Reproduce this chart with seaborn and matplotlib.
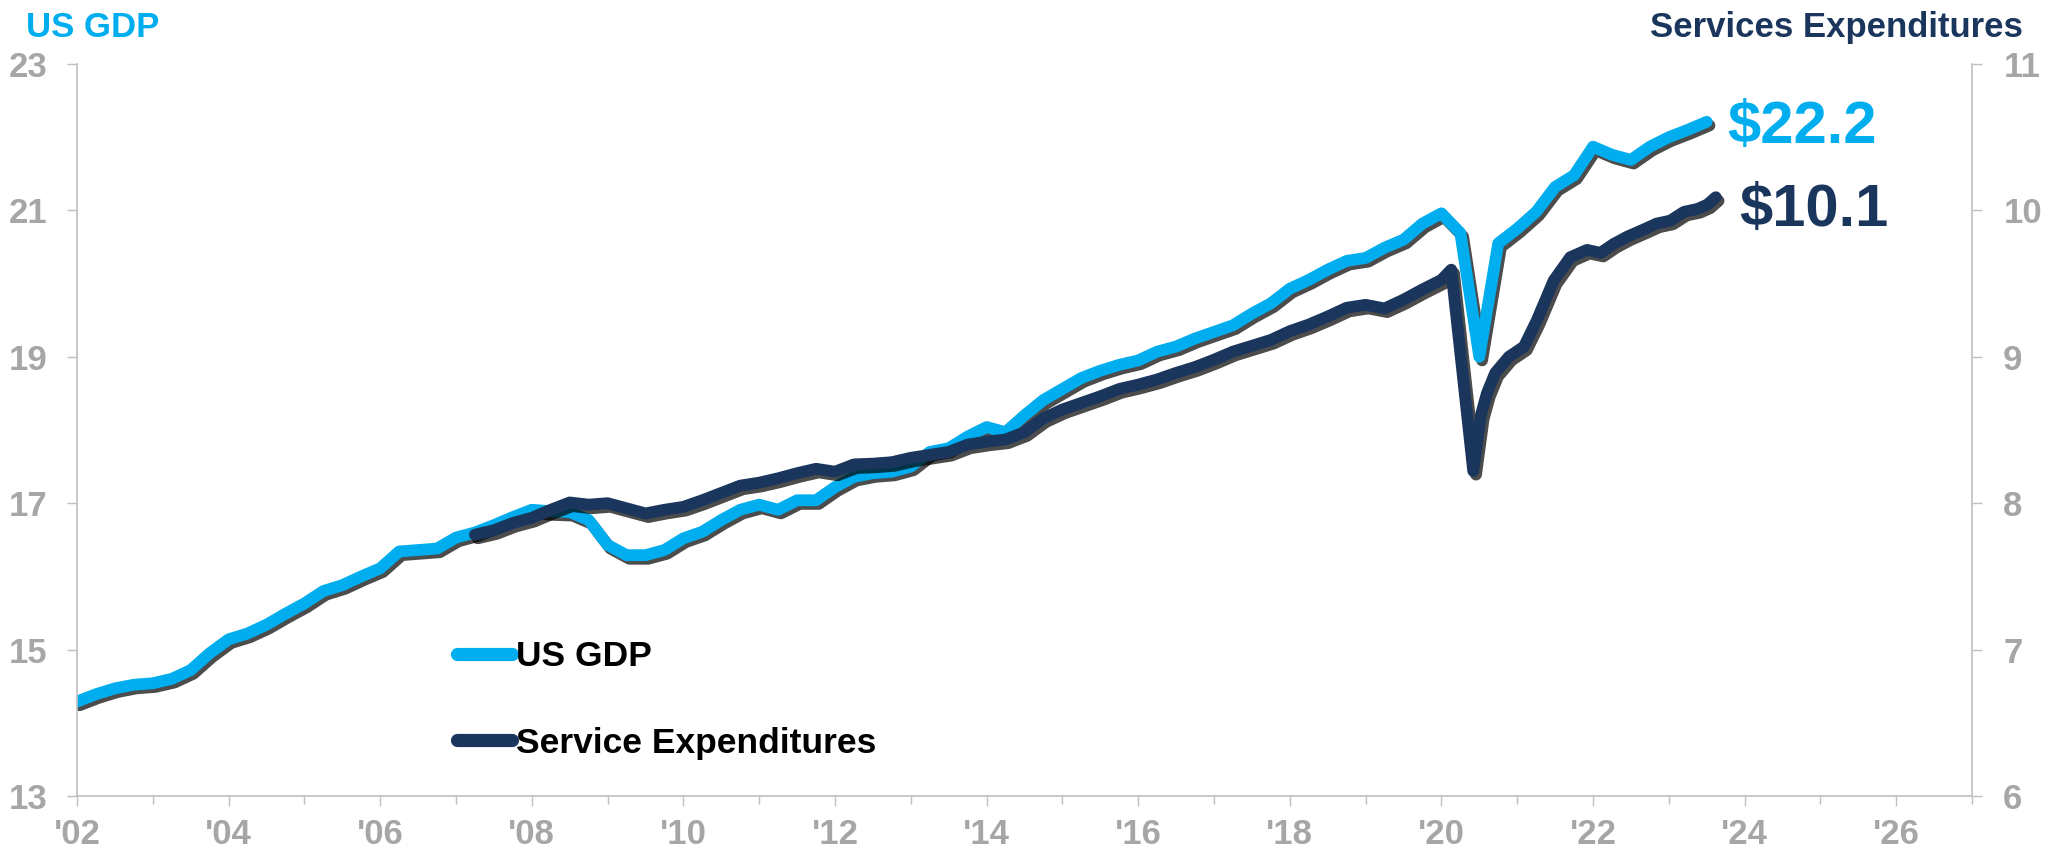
import numpy as np
import matplotlib
matplotlib.use("Agg")
import matplotlib.pyplot as plt
import matplotlib.patheffects as pe
from matplotlib.lines import Line2D
import seaborn as sns

# ---- data -------------------------------------------------------------
# Real US GDP, trillions of dollars, quarterly (points at quarter end)
gdp_dates = 2002.0 + 0.25 * np.arange(87)
gdp_values = [
    14.29, 14.39, 14.47, 14.52, 14.54, 14.60, 14.72, 14.95,
    15.14, 15.22, 15.34, 15.49, 15.63, 15.80, 15.88, 16.00,
    16.11, 16.34, 16.36, 16.38, 16.53, 16.60, 16.70, 16.81,
    16.91, 16.89, 16.88, 16.77, 16.43, 16.29, 16.29, 16.36,
    16.52, 16.61, 16.77, 16.91, 16.98, 16.91, 17.04, 17.04,
    17.22, 17.36, 17.41, 17.43, 17.50, 17.70, 17.75, 17.91,
    18.04, 17.97, 18.20, 18.41, 18.56, 18.71, 18.81, 18.89,
    18.95, 19.07, 19.14, 19.25, 19.34, 19.43, 19.59, 19.73,
    19.93, 20.05, 20.19, 20.31, 20.35, 20.49, 20.60, 20.82,
    20.96, 20.69, 19.00, 20.55, 20.75, 20.98, 21.32, 21.48,
    21.87, 21.76, 21.69, 21.87, 22.00, 22.10, 22.21,
]

# Real services expenditures, trillions of dollars
services_dates = [
    2007.25, 2007.50, 2007.75, 2008.00, 2008.25, 2008.50, 2008.75,
    2009.00, 2009.25, 2009.50, 2009.75, 2010.00, 2010.25, 2010.50,
    2010.75, 2011.00, 2011.25, 2011.50, 2011.75, 2012.00, 2012.25,
    2012.50, 2012.75, 2013.00, 2013.25, 2013.50, 2013.75, 2014.00,
    2014.25, 2014.50, 2014.75, 2015.00, 2015.25, 2015.50, 2015.75,
    2016.00, 2016.25, 2016.50, 2016.75, 2017.00, 2017.25, 2017.50,
    2017.75, 2018.00, 2018.25, 2018.50, 2018.75, 2019.00, 2019.25,
    2019.50, 2019.75, 2020.00, 2020.13, 2020.42, 2020.52, 2020.60,
    2020.71, 2020.89, 2021.09, 2021.26, 2021.48, 2021.70, 2021.92,
    2022.10, 2022.27, 2022.45, 2022.67, 2022.84, 2023.02, 2023.20,
    2023.38, 2023.51, 2023.62,
]
services_values = [
    7.785, 7.815, 7.865, 7.900, 7.955, 8.005, 7.990,
    8.000, 7.965, 7.930, 7.955, 7.975, 8.020, 8.070,
    8.120, 8.140, 8.170, 8.205, 8.235, 8.215, 8.265,
    8.270, 8.280, 8.310, 8.330, 8.350, 8.400, 8.420,
    8.435, 8.485, 8.580, 8.640, 8.685, 8.730, 8.780,
    8.810, 8.845, 8.890, 8.930, 8.980, 9.035, 9.075,
    9.115, 9.175, 9.220, 9.275, 9.335, 9.355, 9.330,
    9.390, 9.460, 9.525, 9.595, 8.220, 8.600, 8.750,
    8.890, 9.000, 9.070, 9.250, 9.520, 9.680, 9.730,
    9.710, 9.770, 9.820, 9.870, 9.910, 9.930, 9.990,
    10.010, 10.040, 10.090,
]

x_major = [2002, 2004, 2006, 2008, 2010, 2012, 2014, 2016, 2018, 2020, 2022, 2024, 2026]
x_minor = [2003, 2005, 2007, 2009, 2011, 2013, 2015, 2017, 2019, 2021, 2023, 2025, 2027]
x_labels = ["'02", "'04", "'06", "'08", "'10", "'12", "'14", "'16", "'18", "'20", "'22", "'24", "'26"]
gdp_ticks = [13, 15, 17, 19, 21, 23]
services_ticks = [6, 7, 8, 9, 10, 11]

# ---- style ------------------------------------------------------------
GDP_COLOR = "#00AEEF"
SERV_COLOR = "#1B365D"
AXIS_GRAY = "#BFBFBF"
LABEL_GRAY = "#A6A6A6"

sns.set_theme(style="white")
plt.rcParams["font.family"] = ["Liberation Sans", "DejaVu Sans"]
plt.rcParams["font.weight"] = "bold"

W, H = 2053, 855
fig = plt.figure(figsize=(W / 100, H / 100), dpi=100)
ax = fig.add_axes([77 / W, 1 - 796 / H, (1972 - 77) / W, (796 - 64) / H])
ax2 = ax.twinx()

shadow = [pe.SimpleLineShadow(offset=(2.0, -2.6), shadow_color="black", alpha=0.7),
          pe.Normal()]

sns.lineplot(x=gdp_dates, y=gdp_values, ax=ax, color=GDP_COLOR,
             linewidth=8.5, sort=False, legend=False)
sns.lineplot(x=services_dates, y=services_values, ax=ax2, color=SERV_COLOR,
             linewidth=8.5, sort=False, legend=False)
for line in ax.lines + ax2.lines:
    line.set_solid_capstyle("round")
    line.set_solid_joinstyle("round")
    line.set_path_effects(shadow)

# ---- axes -------------------------------------------------------------
ax.set_xlim(2002, 2027)
ax.set_ylim(13, 23)
ax2.set_ylim(6, 11)
ax.set_xticks(x_major)
ax.set_xticklabels(x_labels)
ax.set_xticks(x_minor, minor=True)
ax.set_yticks(gdp_ticks)
ax2.set_yticks(services_ticks)
ax.set_xlabel("")
ax.set_ylabel("")
ax2.set_ylabel("")

for a in (ax, ax2):
    for s in a.spines.values():
        s.set_color(AXIS_GRAY)
        s.set_linewidth(1.2)
    a.spines["top"].set_visible(False)
ax.spines["right"].set_visible(False)
ax2.spines["left"].set_visible(False)
ax2.spines["bottom"].set_visible(False)

ax.tick_params(axis="x", which="major", bottom=True, direction="out", length=7.5,
               width=1, color=AXIS_GRAY, labelcolor=LABEL_GRAY, labelsize=25, pad=8)
ax.tick_params(axis="x", which="minor", bottom=True, direction="out", length=5.5,
               width=1, color=AXIS_GRAY)
ax.tick_params(axis="y", left=True, direction="out", length=7.5, width=1,
               color=AXIS_GRAY, labelcolor=LABEL_GRAY, labelsize=25, pad=14)
ax2.tick_params(axis="y", right=True, direction="out", length=7.5, width=1,
                color=AXIS_GRAY, labelcolor=LABEL_GRAY, labelsize=25, pad=15)
ax.grid(False)
ax2.grid(False)

# ---- titles -----------------------------------------------------------
fig.text(26 / W, 1 - 37 / H, "US GDP", color=GDP_COLOR, fontsize=25,
         ha="left", va="baseline", fontweight="bold")
fig.text(2023 / W, 1 - 37 / H, "Services Expenditures", color=SERV_COLOR,
         fontsize=25, ha="right", va="baseline", fontweight="bold")

# ---- end-of-line value labels ----------------------------------------
ax.annotate(f"${gdp_values[-1]:.1f}", xy=(gdp_dates[-1], gdp_values[-1]),
            xytext=(14.5, -15), textcoords="offset points", fontsize=43,
            color=GDP_COLOR, ha="left", va="baseline", fontweight="bold")
ax2.annotate(f"${services_values[-1]:.1f}", xy=(services_dates[-1], services_values[-1]),
             xytext=(17, -20.5), textcoords="offset points", fontsize=43,
             color=SERV_COLOR, ha="left", va="baseline", fontweight="bold")

# ---- legend -----------------------------------------------------------
handles = [Line2D([], [], color=GDP_COLOR, lw=9.5, solid_capstyle="round"),
           Line2D([], [], color=SERV_COLOR, lw=9.5, solid_capstyle="round")]
leg = ax2.legend(handles, ["US GDP", "Service Expenditures"], loc="upper left",
                 bbox_to_anchor=((457 - 77) / 1895, (796 - 640) / 732),
                 frameon=False, fontsize=25.5, handlelength=1.55, handletextpad=0.13,
                 labelspacing=1.52, borderpad=0, borderaxespad=0)
for t in leg.get_texts():
    t.set_color("black")
    t.set_fontweight("bold")

fig.savefig("out.png", dpi=100, facecolor="white")
